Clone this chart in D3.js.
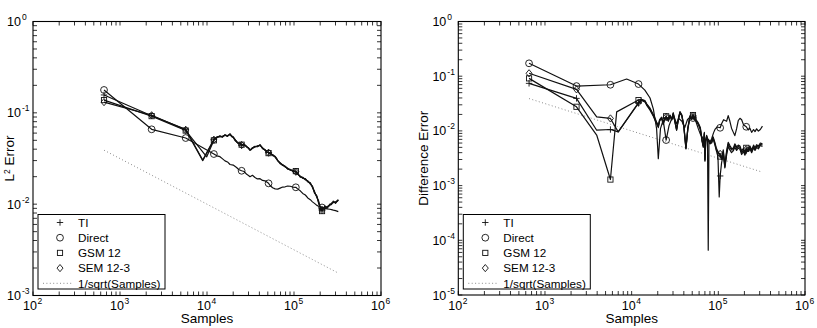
<!DOCTYPE html>
<html lang="en">
<head>
<meta charset="utf-8">
<title>Error vs Samples</title>
<script src="https://d3js.org/d3.v7.min.js"></script>
<style>
  body { margin: 0; background: #fff; }
  svg { font-family: "Liberation Sans", Arial, Helvetica, sans-serif; }
</style>
</head>
<body>
<script>
// ---- data: [samples, error] ----
var legendLabels = ["TI", "Direct", "GSM 12", "SEM 12-3", "1/sqrt(Samples)"];
var markerSamples = [655, 2310, 5690, 12000, 25000, 51000, 105000, 210000];
var xTickExp = [2, 3, 4, 5, 6];
var yTickExpL = [-3, -2, -1, 0];
var yTickExpR = [-5, -4, -3, -2, -1, 0];

// 1/sqrt(Samples) reference
var refLine = [[655, 0.039], [323000, 0.00176]];

// left panel (L2 error)
var tiL = [[655,0.157],[2310,0.093],[5690,0.066],[8930,0.0305],[12000,0.0513],[13000,0.0545],[14100,0.0552],[15000,0.0540],[16100,0.0575],[17200,0.0556],[18400,0.0585],[19200,0.0548],[20000,0.0545],[21000,0.0505],[21900,0.0488],[23000,0.0462],[24000,0.0470],[25000,0.0440],[26700,0.0455],[28600,0.0422],[30000,0.0415],[31200,0.0388],[32200,0.0402],[33300,0.0412],[35600,0.0430],[38000,0.0425],[40700,0.0448],[43500,0.0405],[46500,0.0395],[48500,0.0372],[51000,0.0368],[53100,0.0355],[56800,0.0350],[60700,0.0328],[63000,0.0312],[65000,0.0302],[69300,0.0278],[74000,0.0272],[79200,0.0255],[84500,0.0248],[90500,0.0235],[96500,0.0236],[105000,0.0225],[110000,0.0218],[118000,0.0198],[126000,0.0197],[135000,0.0185],[144000,0.0180],[154000,0.0166],[163000,0.0157],[172000,0.0132],[183000,0.0123],[192000,0.0102],[199000,0.0095],[205000,0.0087],[210000,0.0088],[218000,0.0091],[226000,0.0093],[240000,0.0094],[258000,0.0097],[270000,0.0103],[283000,0.0104],[300000,0.0106],[323000,0.0110]];
var directL = [[655,0.178],[2310,0.066],[5690,0.053],[12000,0.0354],[13000,0.0338],[14100,0.0331],[15000,0.0315],[16100,0.0298],[17200,0.0290],[18400,0.0272],[20000,0.0268],[21900,0.0252],[23000,0.0240],[25000,0.0232],[26700,0.0228],[28600,0.0212],[30000,0.0206],[31200,0.0200],[33300,0.0207],[35600,0.0196],[38000,0.0189],[40700,0.0190],[43500,0.0182],[46500,0.0180],[51000,0.0169],[53100,0.0160],[56800,0.0151],[60700,0.0147],[65000,0.0146],[69300,0.0150],[74000,0.0154],[79200,0.0155],[84500,0.0158],[90500,0.0157],[96500,0.0154],[105000,0.0153],[110000,0.0147],[118000,0.0140],[126000,0.0131],[135000,0.0126],[144000,0.0117],[154000,0.0112],[163000,0.0106],[172000,0.0102],[183000,0.0097],[192000,0.0095],[199000,0.0094],[210000,0.0092],[218000,0.0090],[226000,0.0090],[240000,0.0089],[258000,0.0088],[270000,0.0087],[283000,0.0086],[300000,0.0085],[323000,0.0083]];
var gsmL = [[655,0.138],[2310,0.092],[5690,0.064],[9930,0.033],[12000,0.0500],[13000,0.0535],[14100,0.0562],[15000,0.0548],[16100,0.0568],[17200,0.0565],[18400,0.0578],[19200,0.0555],[20000,0.0538],[21000,0.0512],[21900,0.0478],[23000,0.0458],[24000,0.0462],[25000,0.0448],[26700,0.0446],[28600,0.0430],[30000,0.0405],[31200,0.0396],[32200,0.0395],[33300,0.0408],[35600,0.0422],[38000,0.0435],[40700,0.0440],[43500,0.0415],[46500,0.0388],[48500,0.0378],[51000,0.0362],[53100,0.0365],[56800,0.0340],[60700,0.0335],[63000,0.0318],[65000,0.0298],[69300,0.0284],[74000,0.0265],[79200,0.0260],[84500,0.0242],[90500,0.0240],[96500,0.0229],[105000,0.0230],[110000,0.0212],[118000,0.0203],[126000,0.0192],[135000,0.0190],[144000,0.0175],[154000,0.0172],[163000,0.0152],[172000,0.0138],[183000,0.0119],[192000,0.0108],[199000,0.0092],[205000,0.0085],[210000,0.0084],[218000,0.0089],[226000,0.0096],[240000,0.0090],[258000,0.0100],[270000,0.0099],[283000,0.0108],[300000,0.0102],[323000,0.0112]];
var semL = [[655,0.131],[2310,0.094],[5690,0.065],[8930,0.030],[12000,0.0505],[13000,0.0542],[14100,0.0550],[15000,0.0552],[16100,0.0570],[17200,0.0552],[18400,0.0590],[19200,0.0560],[20000,0.0542],[21000,0.0498],[21900,0.0482],[23000,0.0466],[24000,0.0455],[25000,0.0445],[26700,0.0452],[28600,0.0425],[30000,0.0412],[31200,0.0392],[32200,0.0398],[33300,0.0415],[35600,0.0428],[38000,0.0430],[40700,0.0442],[43500,0.0410],[46500,0.0392],[48500,0.0375],[51000,0.0366],[53100,0.0360],[56800,0.0346],[60700,0.0330],[63000,0.0315],[65000,0.0300],[69300,0.0281],[74000,0.0268],[79200,0.0258],[84500,0.0245],[90500,0.0238],[96500,0.0232],[105000,0.0227],[110000,0.0215],[118000,0.0200],[126000,0.0195],[135000,0.0187],[144000,0.0178],[154000,0.0169],[163000,0.0155],[172000,0.0135],[183000,0.0121],[192000,0.0105],[199000,0.0094],[205000,0.0086],[210000,0.0086],[218000,0.0090],[226000,0.0094],[240000,0.0092],[258000,0.0098],[270000,0.0101],[283000,0.0106],[300000,0.0104],[323000,0.0111]];

// right panel (difference error)
var tiR = [[655,0.074],[2310,0.0393],[3950,0.0103],[5690,0.0106],[7000,0.0096],[12000,0.032],[13000,0.036],[14200,0.034],[15000,0.029],[16300,0.024],[17800,0.0185],[19400,0.0135],[20300,0.0115],[21000,0.0150],[22200,0.0172],[23100,0.0130],[24000,0.0160],[25000,0.0175],[26500,0.0150],[27700,0.0185],[29000,0.0158],[30200,0.0205],[31500,0.0148],[33000,0.0102],[34500,0.0155],[36100,0.0215],[38000,0.0185],[40000,0.0118],[42300,0.0047],[44500,0.0108],[47000,0.0176],[49000,0.0162],[51000,0.0185],[54000,0.0160],[58700,0.0132],[62000,0.0105],[65000,0.0064],[67000,0.0050],[69000,0.0088],[70100,0.0028],[71500,0.0062],[73300,0.0078],[75000,0.0068],[78000,0.0063],[80000,0.0058],[83700,0.0060],[87000,0.0072],[91400,0.0055],[95000,0.0043],[99000,0.0034],[102400,0.00062],[105000,0.0015],[109000,0.0026],[114000,0.0038],[119000,0.0021],[124600,0.0036],[130000,0.0052],[136000,0.0045],[142000,0.0040],[148600,0.0043],[155000,0.0050],[162600,0.0044],[170000,0.0049],[177600,0.0046],[185800,0.0037],[195000,0.0042],[202800,0.0036],[210000,0.0043],[222000,0.0042],[231400,0.0047],[242300,0.0040],[255000,0.0049],[265000,0.0044],[276500,0.0050],[290000,0.0047],[305000,0.0054],[323000,0.0052]];
var directR = [[655,0.172],[2310,0.066],[5690,0.0697],[8750,0.0887],[12000,0.0718],[14200,0.0557],[16300,0.040],[17800,0.025],[19400,0.011],[20300,0.0031],[21500,0.011],[23100,0.0157],[25000,0.0068],[27000,0.0125],[28900,0.0165],[31000,0.0178],[33000,0.0135],[35000,0.0168],[38000,0.0150],[41000,0.0115],[44000,0.0160],[47000,0.0178],[51000,0.0172],[55000,0.0150],[58700,0.0110],[62000,0.0088],[66000,0.0074],[70000,0.0064],[73300,0.0072],[76500,0.0068],[80000,0.0062],[83700,0.0072],[88000,0.0092],[92000,0.0108],[97000,0.0118],[105000,0.0114],[109000,0.0135],[115000,0.0160],[124600,0.0150],[130000,0.0190],[136000,0.0150],[142000,0.0112],[148600,0.0095],[155000,0.0082],[162600,0.0110],[170000,0.0155],[177600,0.0170],[185800,0.0160],[195000,0.0130],[210000,0.0119],[222000,0.0104],[231400,0.0112],[242300,0.0094],[255000,0.0106],[265000,0.0097],[276500,0.0109],[290000,0.0099],[305000,0.0106],[323000,0.0122]];
var gsmR = [[655,0.0913],[2310,0.0276],[3950,0.0084],[5690,0.00129],[6720,0.0223],[12000,0.0366],[13000,0.038],[14200,0.036],[15000,0.031],[16300,0.026],[17800,0.020],[19400,0.0145],[20300,0.0125],[21000,0.0160],[22200,0.0178],[23100,0.0140],[24000,0.0168],[25000,0.0185],[26500,0.0160],[27700,0.0195],[29000,0.0165],[30200,0.0215],[31500,0.0155],[33000,0.0108],[34500,0.0165],[36100,0.0225],[38000,0.0195],[40000,0.0125],[42300,0.0050],[44500,0.0115],[47000,0.0185],[49000,0.0170],[51000,0.0195],[54000,0.0170],[58700,0.0140],[62000,0.0115],[65000,0.0068],[67000,0.0054],[69000,0.0094],[70100,0.0030],[71500,0.0068],[73300,0.0083],[75000,0.0073],[78000,0.0068],[80000,0.0063],[83700,0.0066],[87000,0.0078],[91400,0.0061],[95000,0.0048],[99000,0.0042],[105000,0.0034],[109000,0.0032],[114000,0.0045],[119000,0.0024],[124600,0.0043],[130000,0.0062],[136000,0.0054],[142000,0.0048],[148600,0.0048],[155000,0.0058],[162600,0.0051],[170000,0.0055],[177600,0.0053],[185800,0.0043],[195000,0.0048],[202800,0.0041],[210000,0.0049],[222000,0.0048],[231400,0.0053],[242300,0.0045],[255000,0.0055],[265000,0.0049],[276500,0.0056],[290000,0.0053],[305000,0.0060],[323000,0.0058]];
var semR = [[655,0.113],[2310,0.0574],[3950,0.0181],[5690,0.0169],[7000,0.0096],[12000,0.033],[13000,0.037],[14200,0.035],[15000,0.030],[16300,0.025],[17800,0.019],[19400,0.014],[20300,0.012],[21000,0.0155],[22200,0.0175],[23100,0.0135],[24000,0.0165],[25000,0.018],[26500,0.0155],[27700,0.019],[29000,0.016],[30200,0.021],[31500,0.0150],[33000,0.0105],[34500,0.016],[36100,0.022],[38000,0.019],[40000,0.012],[42300,0.0048],[44500,0.011],[47000,0.018],[49000,0.0165],[51000,0.019],[54000,0.0165],[58700,0.0135],[62000,0.011],[65000,0.0066],[67000,0.0052],[69000,0.0090],[70100,0.0029],[71500,0.0065],[73300,0.0080],[75000,0.0070],[76500,0.000066],[78000,0.0065],[80000,0.0060],[83700,0.0062],[87000,0.0075],[91400,0.0058],[95000,0.0045],[99000,0.0040],[105000,0.0038],[109000,0.0030],[114000,0.0042],[119000,0.0022],[124600,0.0040],[130000,0.0058],[136000,0.0050],[142000,0.0045],[148600,0.0045],[155000,0.0055],[162600,0.0048],[170000,0.0052],[177600,0.0050],[185800,0.0040],[195000,0.0045],[202800,0.0038],[210000,0.0046],[222000,0.0045],[231400,0.0050],[242300,0.0042],[255000,0.0052],[265000,0.0046],[276500,0.0053],[290000,0.0050],[305000,0.0057],[323000,0.0055]];

var width = 817, height = 328;
var markerTypes = ["plus", "circle", "square", "diamond"];

var svg = d3.select("body").append("svg")
    .attr("width", width)
    .attr("height", height);

// draws one marker centred at 0,0
function marker(sel, type) {
    if (type == "circle") {
        sel.append("circle").attr("r", 3.4);
    } else if (type == "square") {
        sel.append("rect").attr("x", -2.6).attr("y", -2.6).attr("width", 5.2).attr("height", 5.2);
    } else if (type == "diamond") {
        sel.append("path").attr("d", "M0,-3.6L3,0L0,3.6L-3,0Z");
    } else {
        sel.append("path").attr("d", "M-3.2,0H3.2M0,-3.2V3.2");
    }
}

// "10" with a raised exponent
function powLabel(g, xPos, yPos, e, anchor) {
    if (anchor == "end") {
        g.append("text").attr("x", xPos).attr("y", yPos).attr("text-anchor", "end")
         .attr("font-size", 12.5).text("10");
        g.append("text").attr("x", xPos + 1).attr("y", yPos - 6).attr("font-size", 8.5).text(e);
    } else {
        g.append("text").attr("x", xPos - 3).attr("y", yPos).attr("text-anchor", "middle")
         .attr("font-size", 12.5).text("10");
        g.append("text").attr("x", xPos + 4.5).attr("y", yPos - 6).attr("font-size", 8.5).text(e);
    }
}

function drawPanel(p) {
    var x = d3.scaleLog().domain([1e2, 1e6]).range([p.left, p.right]);
    var y = d3.scaleLog().domain([p.yMin, 1]).range([p.bottom, p.top]);
    var g = svg.append("g");
    var tl = 4;

    // ticks on all four sides, pointing in
    var ticks = g.append("g").attr("stroke", "#000").attr("stroke-width", 0.8);
    var xt = [];
    xTickExp.forEach(function(e, i) {
        xt.push(Math.pow(10, e));
        if (i < xTickExp.length - 1) for (var k = 2; k < 10; k++) xt.push(k * Math.pow(10, e));
    });
    xt.forEach(function(v) {
        var px = x(v);
        ticks.append("line").attr("x1", px).attr("x2", px).attr("y1", p.bottom).attr("y2", p.bottom - tl);
        ticks.append("line").attr("x1", px).attr("x2", px).attr("y1", p.top).attr("y2", p.top + tl);
    });
    var yt = [];
    p.yExp.forEach(function(e, i) {
        yt.push(Math.pow(10, e));
        if (i < p.yExp.length - 1) for (var k = 2; k < 10; k++) yt.push(k * Math.pow(10, e));
    });
    yt.forEach(function(v) {
        var py = y(v);
        ticks.append("line").attr("y1", py).attr("y2", py).attr("x1", p.left).attr("x2", p.left + tl);
        ticks.append("line").attr("y1", py).attr("y2", py).attr("x1", p.right).attr("x2", p.right - tl);
    });

    // tick labels
    var lab = g.append("g").attr("fill", "#000");
    xTickExp.forEach(function(e) { powLabel(lab, x(Math.pow(10, e)), 309.5, e, "middle"); });
    p.yExp.forEach(function(e) { powLabel(lab, p.left - 12, y(Math.pow(10, e)) + 4.5, e, "end"); });

    // clip to axes
    g.append("clipPath").attr("id", p.id + "clip")
     .append("rect").attr("x", p.left).attr("y", p.top)
     .attr("width", p.right - p.left).attr("height", p.bottom - p.top);
    var plot = g.append("g").attr("clip-path", "url(#" + p.id + "clip)");

    var line = d3.line().x(function(d) { return x(d[0]); }).y(function(d) { return y(d[1]); });

    plot.append("path").datum(refLine).attr("d", line)
        .attr("fill", "none").attr("stroke", "#8a8a8a").attr("stroke-width", 1)
        .attr("stroke-dasharray", "1,2.4");

    p.series.forEach(function(s, i) {
        plot.append("path").datum(s).attr("d", line)
            .attr("fill", "none").attr("stroke", "#111").attr("stroke-width", 1.2)
            .attr("stroke-linejoin", "round");
        var pts = s.filter(function(d) { return markerSamples.indexOf(d[0]) >= 0; });
        plot.selectAll(null).data(pts).enter().append("g")
            .attr("transform", function(d) { return "translate(" + x(d[0]) + "," + y(d[1]) + ")"; })
            .attr("fill", "none").attr("stroke", "#111").attr("stroke-width", 0.9)
            .each(function() { marker(d3.select(this), markerTypes[i]); });
    });

    // axes box
    g.append("rect").attr("x", p.left).attr("y", p.top)
     .attr("width", p.right - p.left).attr("height", p.bottom - p.top)
     .attr("fill", "none").attr("stroke", "#000").attr("stroke-width", 1.1);

    // legend
    var lx = p.left + 5, ly = 214.5;
    var leg = g.append("g");
    leg.append("rect").attr("x", lx).attr("y", ly).attr("width", 127).attr("height", 74.5)
       .attr("fill", "#fff").attr("stroke", "#000").attr("stroke-width", 1);
    legendLabels.forEach(function(name, i) {
        var cy = ly + 8 + i * 15.2;
        if (i < 4) {
            var m = leg.append("g").attr("transform", "translate(" + (lx + 22) + "," + cy + ")")
                .attr("fill", "none").attr("stroke", "#111").attr("stroke-width", 0.9);
            marker(m, markerTypes[i]);
        } else {
            leg.append("line").attr("x1", lx + 5).attr("x2", lx + 34).attr("y1", cy).attr("y2", cy)
               .attr("stroke", "#8a8a8a").attr("stroke-dasharray", "1,2.4");
        }
        leg.append("text").attr("x", lx + 40).attr("y", cy + 4.3)
           .attr("font-size", 11.7).attr("fill", "#000").text(name);
    });

    // axis titles
    g.append("text").attr("x", (p.left + p.right) / 2).attr("y", 323)
     .attr("text-anchor", "middle").attr("font-size", 13.5).text("Samples");
    var yl = g.append("text")
     .attr("transform", "translate(" + p.yLabelX + "," + ((p.top + p.bottom) / 2) + ") rotate(-90)")
     .attr("text-anchor", "middle").attr("font-size", 13.5);
    p.yLabel.forEach(function(part) {
        var ts = yl.append("tspan").text(part.t);
        if (part.sup) ts.attr("font-size", 8.5).attr("dy", -4.5);
        if (part.down) ts.attr("dy", 4.5);
    });
}

drawPanel({
    id: "left", left: 33, right: 381, top: 21.5, bottom: 295.5,
    yMin: 1e-3, yExp: yTickExpL,
    series: [tiL, directL, gsmL, semL],
    yLabelX: 14, yLabel: [{t: "L"}, {t: "2", sup: true}, {t: " Error", down: true}]
});

drawPanel({
    id: "right", left: 458.3, right: 805, top: 21.5, bottom: 295,
    yMin: 1e-5, yExp: yTickExpR,
    series: [tiR, directR, gsmR, semR],
    yLabelX: 428, yLabel: [{t: "Difference Error"}]
});
</script>
</body>
</html>
